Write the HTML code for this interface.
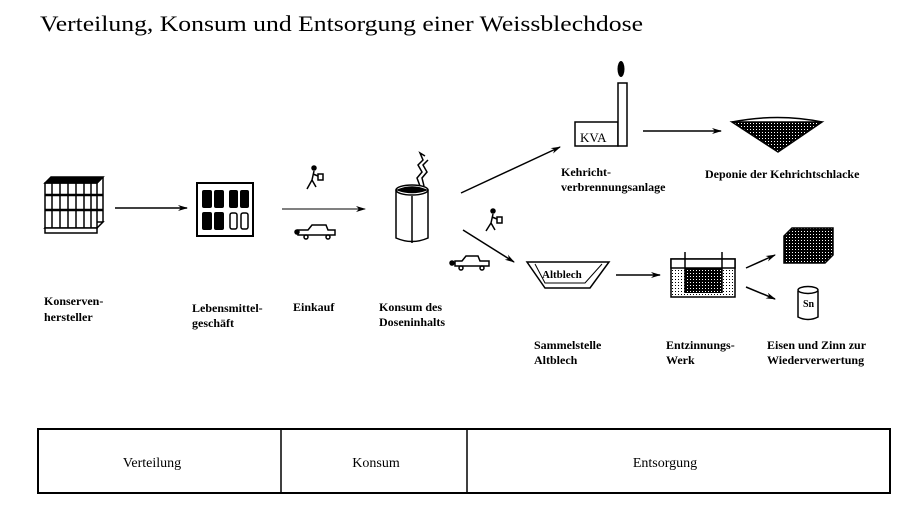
<!DOCTYPE html>
<html><head><meta charset="utf-8"><style>
html,body{margin:0;padding:0;background:#fff;}
svg{display:block;}
text{font-family:"Liberation Serif",serif;fill:#000;}
.l{font-size:12px;font-weight:bold;}
</style></head><body>
<svg width="920" height="529" viewBox="0 0 920 529" xmlns="http://www.w3.org/2000/svg">
<defs>
<marker id="a" markerWidth="10" markerHeight="8" refX="9" refY="4" orient="auto" markerUnits="userSpaceOnUse">
<path d="M0,1 L10,4 L0,7 L3,4 Z" fill="#000"/></marker>
<pattern id="dots" width="3" height="3" patternUnits="userSpaceOnUse"><rect width="3" height="3" fill="#fff"/><rect width="1" height="1" fill="#000"/></pattern>
<pattern id="dk" width="3" height="3" patternUnits="userSpaceOnUse"><rect width="3" height="3" fill="#000"/><rect width="1" height="1" fill="#fff"/></pattern>
</defs>
<text x="40" y="31" font-size="22" textLength="603" lengthAdjust="spacingAndGlyphs">Verteilung, Konsum und Entsorgung einer Weissblechdose</text>

<!-- pallet -->
<g stroke="#000" fill="none" stroke-width="1.5">
<polygon points="45,228 97,228 103,222 51,222" fill="#fff"/>
<rect x="45" y="183" width="52" height="45" fill="#fff"/>
<polygon points="45,183 51,177 103,177 97,183" fill="#000"/>
<line x1="97" y1="183" x2="103" y2="177"/><line x1="103" y1="177" x2="103" y2="222"/>
<line x1="52" y1="183" x2="52" y2="228"/><line x1="60" y1="183" x2="60" y2="228"/><line x1="68" y1="183" x2="68" y2="228"/><line x1="76" y1="183" x2="76" y2="228"/><line x1="84" y1="183" x2="84" y2="228"/><line x1="91" y1="183" x2="91" y2="228"/>
<line x1="45" y1="195" x2="103" y2="195" stroke-width="2.5"/><line x1="45" y1="210" x2="103" y2="210" stroke-width="2.5"/>
<rect x="45" y="228" width="52" height="5" fill="#fff"/>
</g>
<line x1="115" y1="208" x2="187" y2="208" stroke="#000" stroke-width="1.5" marker-end="url(#a)"/>

<!-- shop -->
<rect x="197" y="183" width="56" height="53" fill="#fff" stroke="#000" stroke-width="2"/>
<g fill="#000"><rect x="202" y="190" width="10" height="18" rx="2"/><rect x="214" y="190" width="10" height="18" rx="2"/><rect x="229" y="190" width="9" height="18" rx="2"/><rect x="240" y="190" width="9" height="18" rx="2"/>
<rect x="202" y="212" width="10" height="18" rx="2"/><rect x="214" y="212" width="10" height="18" rx="2"/></g>
<g fill="none" stroke="#000" stroke-width="1.5"><rect x="230" y="213" width="7" height="16" rx="2"/><rect x="241" y="213" width="7" height="16" rx="2"/></g>

<line x1="282" y1="209" x2="365" y2="209" stroke="#000" stroke-width="1" marker-end="url(#a)"/>
<!-- walker -->
<g stroke="#000" stroke-width="1.5" fill="none">
<circle cx="314" cy="168" r="2" fill="#000"/><path d="M314,171 L312,180 L307,189 M312,180 L316,187 M313,174 L318,176"/><rect x="318" y="174" width="5" height="6"/>
<circle cx="493" cy="211" r="2" fill="#000"/><path d="M493,214 L491,223 L486,231 M491,223 L495,230 M492,217 L497,219"/><rect x="497" y="217" width="5" height="6"/>
</g>
<!-- cars -->
<g stroke="#000" stroke-width="1.5" fill="#fff">
<path d="M298,230 L308,230 L312,225 L326,225 L328,230 L335,230 L335,235 L298,235 Z"/><circle cx="306" cy="237" r="2"/><circle cx="328" cy="237" r="2"/><circle cx="297" cy="232" r="2" fill="#000"/>
<path d="M455,261 L462,261 L466,256 L478,256 L480,261 L489,261 L489,266 L455,266 Z"/><circle cx="461" cy="268" r="2"/><circle cx="482" cy="268" r="2"/><circle cx="452" cy="263" r="2" fill="#000"/>
</g>
<!-- can -->
<g stroke="#000" stroke-width="1.5" fill="#fff">
<path d="M396,190 L396,238 Q412,245 428,238 L428,190"/>
<ellipse cx="412" cy="190" rx="16" ry="5" fill="#fff"/>
<line x1="412" y1="196" x2="412" y2="243"/>
<path d="M398,190 Q412,184 426,190 Q412,195 398,190Z" fill="#000"/>
<path d="M420,186 L417,178 L422,172 L418,165 L423,160 L420,153 L425,156 M424,186 L422,178 L427,172 L423,165 L428,160" fill="none"/>
</g>
<!-- arrows to disposal -->
<line x1="461" y1="193" x2="560" y2="147" stroke="#000" stroke-width="1.5" marker-end="url(#a)"/>
<line x1="463" y1="230" x2="514" y2="262" stroke="#000" stroke-width="1.5" marker-end="url(#a)"/>

<!-- KVA -->
<rect x="575" y="122" width="43" height="24" fill="#fff" stroke="#000" stroke-width="1.5"/>
<rect x="618" y="83" width="9" height="63" fill="#fff" stroke="#000" stroke-width="1.5"/>
<ellipse cx="621" cy="69" rx="3.5" ry="8" fill="#000"/>
<text x="580" y="142" font-size="13">KVA</text>
<line x1="643" y1="131" x2="721" y2="131" stroke="#000" stroke-width="1.5" marker-end="url(#a)"/>
<!-- deponie -->
<polygon points="732,122 822,122 778,152" fill="url(#dk)" stroke="#000" stroke-width="1.5"/>
<path d="M732,122 Q778,113 822,122" stroke="#000" fill="none" stroke-width="1.5"/>

<!-- altblech tub -->
<polygon points="527,262 609,262 590,288 545,288" fill="#fff" stroke="#000" stroke-width="1.5"/>
<polyline points="535,264 545,283 585,283 602,264" fill="none" stroke="#000" stroke-width="1"/>
<text x="542" y="278" font-size="11" font-weight="bold">Altblech</text>
<line x1="616" y1="275" x2="660" y2="275" stroke="#000" stroke-width="1.5" marker-end="url(#a)"/>

<!-- Entzinnung -->
<rect x="671" y="259" width="64" height="38" fill="url(#dots)" stroke="#000" stroke-width="1.5"/>
<rect x="671" y="259" width="64" height="9" fill="#fff" stroke="#000" stroke-width="1.5"/>
<rect x="685" y="268" width="37" height="25" fill="url(#dk)"/>
<line x1="685" y1="252" x2="685" y2="293" stroke="#000" stroke-width="1.5"/><line x1="722" y1="252" x2="722" y2="293" stroke="#000" stroke-width="1.5"/>
<line x1="746" y1="268" x2="775" y2="255" stroke="#000" stroke-width="1.5" marker-end="url(#a)"/>
<line x1="746" y1="287" x2="775" y2="299" stroke="#000" stroke-width="1.5" marker-end="url(#a)"/>
<!-- cube -->
<polygon points="784,236 792,228 833,228 833,255 825,263 784,263" fill="url(#dk)" stroke="#000" stroke-width="1.5"/>
<!-- Sn can -->
<path d="M798,291 L798,317 Q808,322 818,317 L818,291" fill="#fff" stroke="#000" stroke-width="1.5"/>
<ellipse cx="808" cy="290" rx="10" ry="3.5" fill="#fff" stroke="#000" stroke-width="1.5"/>
<text x="803" y="307" font-size="10" font-weight="bold">Sn</text>

<!-- labels -->
<g class="l">
<text x="44" y="305" class="l">Konserven-</text><text x="44" y="321" class="l">hersteller</text>
<text x="192" y="312" class="l">Lebensmittel-</text><text x="192" y="327" class="l">geschäft</text>
<text x="293" y="311" class="l">Einkauf</text>
<text x="379" y="311" class="l">Konsum des</text><text x="379" y="326" class="l">Doseninhalts</text>
<text x="561" y="176" class="l">Kehricht-</text><text x="561" y="191" class="l">verbrennungsanlage</text>
<text x="705" y="178" class="l">Deponie der Kehrichtschlacke</text>
<text x="534" y="349" class="l">Sammelstelle</text><text x="534" y="364" class="l">Altblech</text>
<text x="666" y="349" class="l">Entzinnungs-</text><text x="666" y="364" class="l">Werk</text>
<text x="767" y="349" class="l">Eisen und Zinn zur</text><text x="767" y="364" class="l">Wiederverwertung</text>
</g>

<!-- table -->
<rect x="38" y="429" width="852" height="64" fill="none" stroke="#000" stroke-width="2"/>
<line x1="281" y1="429" x2="281" y2="493" stroke="#000" stroke-width="1.5"/>
<line x1="467" y1="429" x2="467" y2="493" stroke="#000" stroke-width="1.5"/>
<text x="152" y="467" font-size="14" text-anchor="middle">Verteilung</text>
<text x="376" y="467" font-size="14" text-anchor="middle">Konsum</text>
<text x="665" y="467" font-size="14" text-anchor="middle">Entsorgung</text>
</svg>
</body></html>
